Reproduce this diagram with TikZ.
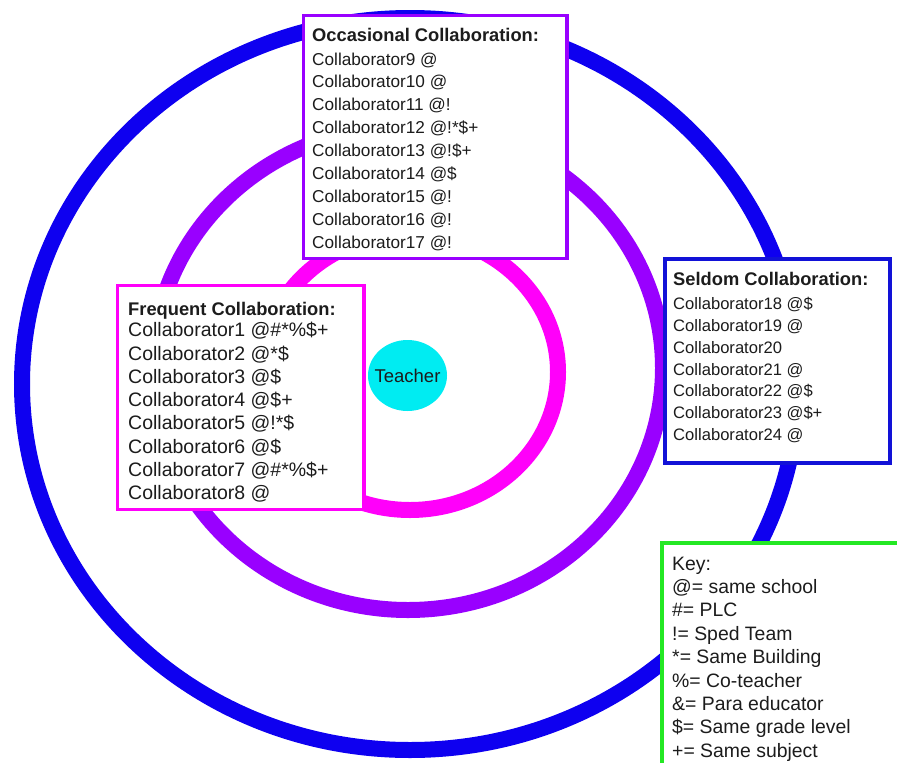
\documentclass[tikz,border=0pt]{standalone}
\usepackage{fontspec}
\setmainfont{Liberation Sans}
\usetikzlibrary{shapes.geometric}
\definecolor{ringblue}{RGB}{14,0,240}
\definecolor{ringpurple}{RGB}{153,0,255}
\definecolor{ringmagenta}{RGB}{255,0,250}
\definecolor{teachercyan}{RGB}{0,236,242}
\definecolor{keygreen}{RGB}{36,232,36}
\definecolor{boxblue}{RGB}{18,18,215}
\definecolor{ink}{RGB}{28,28,28}
\begin{document}
\begin{tikzpicture}[x=1pt,y=-1pt,
  ring/.style={line width=16pt},
  panel/.style={draw, fill=white, line width=3.5pt, rectangle, inner sep=0pt, outer sep=0pt, anchor=north west},
  heading/.style={anchor=base west, inner sep=0pt, text=ink, font=\fontsize{18.3}{22}\selectfont\bfseries},
  entry/.style={anchor=base west, inner sep=0pt, text=ink},
  occfont/.style={font=\fontsize{17.2}{20}\selectfont},
  frqfont/.style={font=\fontsize{19.5}{22}\selectfont},
  seldfont/.style={font=\fontsize{16.6}{20}\selectfont},
  keyfont/.style={font=\fontsize{19.4}{22}\selectfont}]
\useasboundingbox (0,0) rectangle (897,763);
\clip (0,0) rectangle (897,763);
\fill[white] (0,0) rectangle (897,763);

% rings
\draw[ring, ringblue] (410,384) ellipse [x radius=388pt, y radius=366pt];
\draw[ring, ringpurple] (408,368) ellipse [x radius=255pt, y radius=242pt];
\draw[ring, ringmagenta] (410,372) ellipse [x radius=148pt, y radius=138pt];

% panels
\node[panel, draw=ringpurple, minimum width=263.5pt, minimum height=243pt] (occbox) at (303.5,15.5) {};
\node[panel, draw=ringmagenta, minimum width=246.5pt, minimum height=224pt] (frqbox) at (117.5,285.5) {};
\node[panel, draw=boxblue, minimum width=225pt, minimum height=204pt] (seldbox) at (665,259) {};
\node[panel, draw=keygreen, minimum width=300pt, minimum height=300pt] (keybox) at (662,543) {};

% occasional
\node[heading] (occtitle) at (312,41.7) {Occasional Collaboration:};
\foreach \t [count=\i from 0] in {Collaborator9 @, Collaborator10 @, Collaborator11 @!, Collaborator12 @!*\$+, Collaborator13 @!\$+, Collaborator14 @\$, Collaborator15 @!, Collaborator16 @!, Collaborator17 @!}
  \node[entry, occfont] (occ\i) at (312,65+22.9*\i) {\t};

% frequent
\node[heading] (frqtitle) at (128,315) {Frequent Collaboration:};
\foreach \t [count=\i from 0] in {Collaborator1 @\#*\%\$+, Collaborator2 @*\$, Collaborator3 @\$, Collaborator4 @\$+, Collaborator5 @!*\$, Collaborator6 @\$, Collaborator7 @\#*\%\$+, Collaborator8 @}
  \node[entry, frqfont] (frq\i) at (128,336.7+23.3*\i) {\t};

% seldom
\node[heading] (seldtitle) at (673,285) {Seldom Collaboration:};
\foreach \t [count=\i from 0] in {Collaborator18 @\$, Collaborator19 @, Collaborator20, Collaborator21 @, Collaborator22 @\$, Collaborator23 @\$+, Collaborator24 @}
  \node[entry, seldfont] (seld\i) at (673,309.3+21.9*\i) {\t};

% key
\foreach \t [count=\i from 0] in {Key:, @= same school, \#= PLC, != Sped Team, *= Same Building, \%= Co-teacher, \&= Para educator, \$= Same grade level, += Same subject}
  \node[entry, keyfont] (key\i) at (672,570+23.4*\i) {\t};

% teacher
\node[ellipse, fill=teachercyan, minimum width=79pt, minimum height=71pt, inner sep=0pt, text=ink, font=\fontsize{18.5}{20}\selectfont] (teacher) at (407.5,375.5) {\makebox[0pt][c]{Teacher}};
\end{tikzpicture}
\end{document}
